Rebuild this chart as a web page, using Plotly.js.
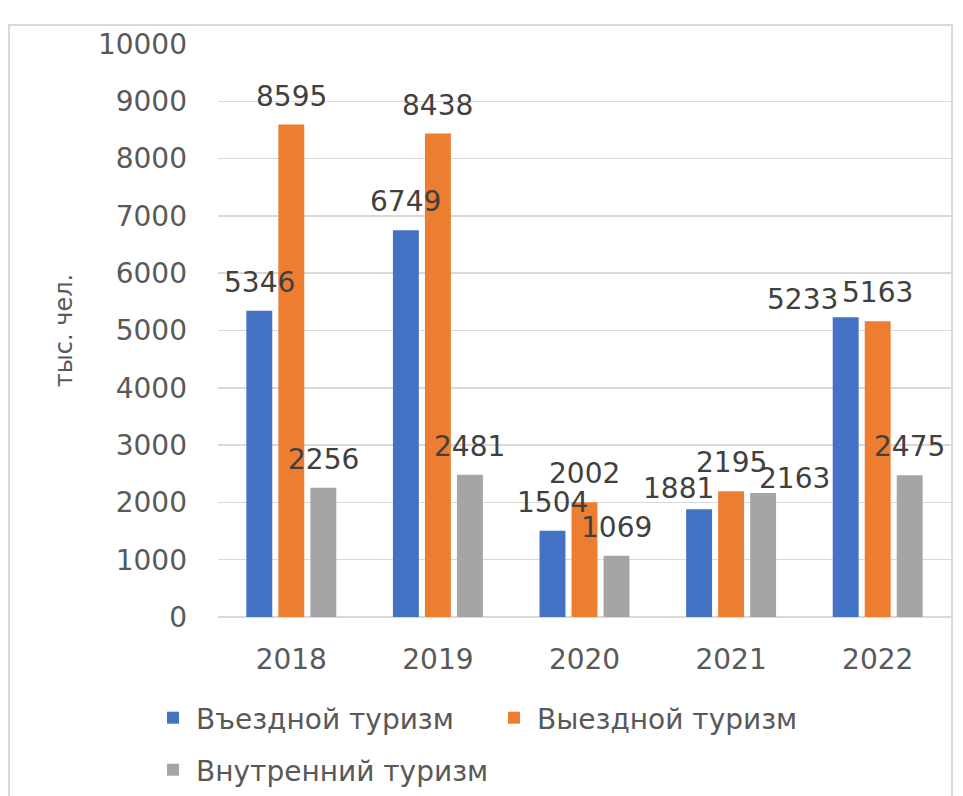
<!DOCTYPE html>
<html>
<head>
<meta charset="utf-8">
<script src="https://cdn.plot.ly/plotly-3.0.1.min.js"></script>
<style>
html, body { margin: 0; padding: 0; background: #ffffff; }
#chart { width: 963px; height: 796px; }
</style>
</head>
<body>
<div id="chart"></div>
<script>
// ---- data ----
const years = ['2018', '2019', '2020', '2021', '2022'];
const seriesNames = ['Въездной туризм', 'Выездной туризм', 'Внутренний туризм'];
const inbound  = [5346, 6749, 1504, 1881, 5233];
const outbound = [8595, 8438, 2002, 2195, 5163];
const domestic = [2256, 2481, 1069, 2163, 2475];
const yTickVals = [0, 1000, 2000, 3000, 4000, 5000, 6000, 7000, 8000, 9000, 10000];
const yTitle = 'тыс. чел.';

// ---- style ----
const colors = ['#4472C4', '#ED7D31', '#A5A5A5'];
const W = 963, H = 796;
const M = { l: 218, r: 12, t: 44, b: 179 };
const bargap = 0.345, bargroupgap = 0.19;
const plotW = W - M.l - M.r, plotH = H - M.t - M.b;
const slotPx = plotW / years.length * (1 - bargap) / 3;
// manual label nudges (px) as placed in the source chart: [dx, dy]
const labelNudge = { '0-3': [-21, -8], '2-3': [31, -14], '0-4': [-43, -11] };

const allSeries = [inbound, outbound, domestic];
const traces = allSeries.map((vals, i) => ({
  type: 'bar',
  name: seriesNames[i],
  x: years,
  y: vals,
  marker: { color: colors[i] },
  legend: i < 2 ? 'legend' : 'legend2',
  hoverinfo: 'skip'
}));

const annotations = [];
allSeries.forEach((vals, i) => {
  vals.forEach((v, j) => {
    const n = labelNudge[i + '-' + j] || [0, 0];
    annotations.push({
      x: j, y: v, xref: 'x', yref: 'y',
      text: String(v), showarrow: false,
      xanchor: 'center', yanchor: 'bottom',
      xshift: (i - 1) * slotPx + n[0], yshift: 10 + n[1],
      font: { family: 'DejaVu Sans', size: 28, color: '#404040' }
    });
  });
});

const legendFont = { family: 'DejaVu Sans', size: 28, color: '#595959' };
const layout = {
  width: W, height: H,
  margin: M,
  paper_bgcolor: '#ffffff', plot_bgcolor: '#ffffff',
  barmode: 'group', bargap: bargap, bargroupgap: bargroupgap,
  showlegend: true,
  legend: {
    orientation: 'h', xref: 'container', yref: 'container',
    x: 150 / W, xanchor: 'left',
    y: 1 - 718 / H, yanchor: 'middle',
    entrywidth: 290, entrywidthmode: 'pixels', itemwidth: 36,
    font: legendFont, bgcolor: 'rgba(0,0,0,0)', traceorder: 'normal'
  },
  legend2: {
    orientation: 'h', xref: 'container', yref: 'container',
    x: 150 / W, xanchor: 'left',
    y: 1 - 770 / H, yanchor: 'middle', itemwidth: 36,
    font: legendFont, bgcolor: 'rgba(0,0,0,0)'
  },
  xaxis: {
    type: 'category', range: [-0.5, years.length - 0.5], autorange: false,
    showgrid: false, zeroline: false, showline: false,
    ticks: '', ticklabelstandoff: 23,
    tickfont: { family: 'DejaVu Sans', size: 28, color: '#595959' }
  },
  yaxis: {
    range: [0, 10000], autorange: false, tickvals: yTickVals, ticktext: yTickVals.map(String),
    showgrid: true, gridcolor: '#D9D9D9', gridwidth: 1.5,
    zeroline: true, zerolinecolor: '#D9D9D9', zerolinewidth: 2,
    showline: false, ticks: '', ticklabelstandoff: 30,
    tickfont: { family: 'DejaVu Sans', size: 28, color: '#595959' },
    title: { text: yTitle, standoff: 18, font: { family: 'DejaVu Sans', size: 24, color: '#595959' } }
  },
  annotations: annotations,
  shapes: [{
    type: 'rect', xref: 'paper', yref: 'paper',
    x0: (9 - M.l) / plotW, x1: (952 - M.l) / plotW,
    y0: (M.t + plotH - 820) / plotH, y1: (M.t + plotH - 25) / plotH,
    line: { color: '#D9D9D9', width: 2 }, fillcolor: 'rgba(0,0,0,0)', layer: 'below'
  }]
};

Plotly.newPlot('chart', traces, layout, { staticPlot: true, displayModeBar: false });
</script>
</body>
</html>
